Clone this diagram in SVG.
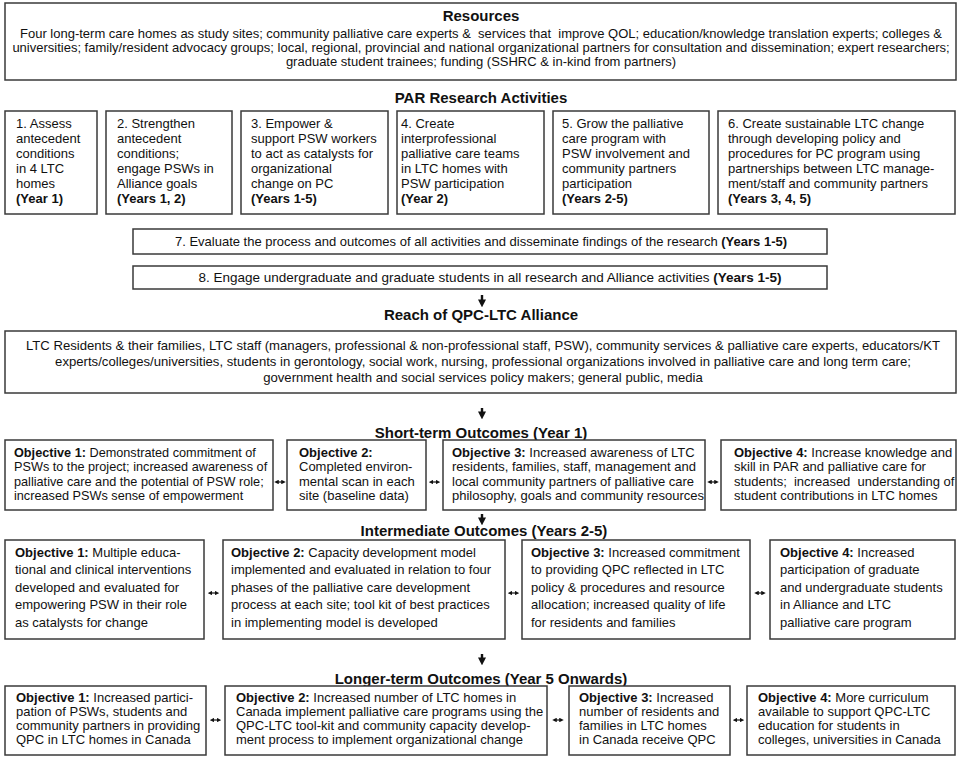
<svg xmlns="http://www.w3.org/2000/svg" width="964" height="764" viewBox="0 0 964 764">
<style>
.box{fill:#fff;stroke:#3a3a3a;stroke-width:1.5}
text{font-family:"Liberation Sans",Arial,sans-serif;font-size:13px;fill:#111;white-space:pre}
.h{font-size:15px;font-weight:bold;text-anchor:middle}
.c{text-anchor:middle}
.b{font-weight:bold}
.sm{font-size:12.7px}
.rc{font-size:13.15px}
.conn{stroke:#111;fill:none}
.down{stroke-width:2.4}
.dbl{stroke-width:1.2}
</style>
<defs>
<marker id="dh" viewBox="0 0 10 10" refX="2" refY="5" markerWidth="8" markerHeight="9" markerUnits="userSpaceOnUse" orient="auto"><path d="M0,0 L10,5 L0,10 z" fill="#111"/></marker>
<marker id="sh" viewBox="0 0 6 6" refX="3" refY="3" markerWidth="4.5" markerHeight="4.5" markerUnits="userSpaceOnUse" orient="auto-start-reverse"><path d="M0,0 L6,3 L0,6 z" fill="#111"/></marker>
</defs>
<rect width="964" height="764" fill="#fff"/>

<g id="resources">
<rect class="box" x="5" y="3" width="951" height="77"/>
<text class="h" x="481" y="20.5">Resources</text>
<text class="c" x="481" y="38">Four long-term care homes as study sites; community palliative care experts &amp;  services that  improve QOL; education/knowledge translation experts; colleges &amp;</text>
<text class="c" x="481" y="52">universities; family/resident advocacy groups; local, regional, provincial and national organizational partners for consultation and dissemination; expert researchers;</text>
<text class="c" x="481" y="66">graduate student trainees; funding (SSHRC &amp; in-kind from partners)</text>
</g>

<g id="par-title"><text class="h" x="481" y="103">PAR Research Activities</text></g>

<g id="act1">
<rect class="box" x="5" y="111" width="92" height="103"/>
<text x="16" y="128">1. Assess</text><text x="16" y="143">antecedent</text><text x="16" y="158">conditions</text><text x="16" y="173">in 4 LTC</text><text x="16" y="188">homes</text><text class="b" x="16" y="203">(Year 1)</text>
</g>
<g id="act2">
<rect class="box" x="106" y="111" width="126" height="103"/>
<text x="117" y="128">2. Strengthen</text><text x="117" y="143">antecedent</text><text x="117" y="158">conditions;</text><text x="117" y="173">engage PSWs in</text><text x="117" y="188">Alliance goals</text><text class="b" x="117" y="203">(Years 1, 2)</text>
</g>
<g id="act3">
<rect class="box" x="241" y="111" width="147" height="103"/>
<text x="251" y="128">3. Empower &amp;</text><text x="251" y="143">support PSW workers</text><text x="251" y="158">to act as catalysts for</text><text x="251" y="173">organizational</text><text x="251" y="188">change on PC</text><text class="b" x="251" y="203">(Years 1-5)</text>
</g>
<g id="act4">
<rect class="box" x="397" y="111" width="147" height="103"/>
<text x="401" y="128">4. Create</text><text x="401" y="143">interprofessional</text><text x="401" y="158">palliative care teams</text><text x="401" y="173">in LTC homes with</text><text x="401" y="188">PSW participation</text><text class="b" x="401" y="203">(Year 2)</text>
</g>
<g id="act5">
<rect class="box" x="553" y="111" width="156" height="103"/>
<text x="562" y="128">5. Grow the palliative</text><text x="562" y="143">care program with</text><text x="562" y="158">PSW involvement and</text><text x="562" y="173">community partners</text><text x="562" y="188">participation</text><text class="b" x="562" y="203">(Years 2-5)</text>
</g>
<g id="act6">
<rect class="box" x="718" y="111" width="237" height="103"/>
<text x="728" y="128">6. Create sustainable LTC change</text><text x="728" y="143">through developing policy and</text><text x="728" y="158">procedures for PC program using</text><text x="728" y="173">partnerships between LTC manage-</text><text x="728" y="188">ment/staff and community partners</text><text class="b" x="728" y="203">(Years 3, 4, 5)</text>
</g>
<g id="act7">
<rect class="box" x="133" y="229" width="694" height="25"/>
<text class="c" x="481" y="246">7. Evaluate the process and outcomes of all activities and disseminate findings of the research <tspan class="b">(Years 1-5)</tspan></text>
</g>
<g id="act8">
<rect class="box" x="133" y="266" width="694" height="23"/>
<text class="c" x="490" y="282" style="font-size:13.5px">8. Engage undergraduate and graduate students in all research and Alliance activities <tspan class="b">(Years 1-5)</tspan></text>
</g>

<g id="reach">
<text class="h" x="481" y="319.5">Reach of QPC-LTC Alliance</text>
<rect class="box" x="5" y="331" width="951" height="62"/>
<text class="c rc" x="483" y="349.5">LTC Residents &amp; their families, LTC staff (managers, professional &amp; non-professional staff, PSW), community services &amp; palliative care experts, educators/KT</text>
<text class="c rc" x="483" y="365.5">experts/colleges/universities, students in gerontology, social work, nursing, professional organizations involved in palliative care and long term care;</text>
<text class="c rc" x="483" y="381.5">government health and social services policy makers; general public, media</text>
</g>

<g id="short-title"><text class="h" x="481" y="437.5">Short-term Outcomes (Year 1)</text></g>
<g id="st1">
<rect class="box" x="5" y="440" width="268" height="70"/>
<text class="sm" x="14" y="456.5"><tspan class="b">Objective 1:</tspan> Demonstrated commitment of</text><text class="sm" x="14" y="471">PSWs to the project; increased awareness of</text><text class="sm" x="14" y="485.5">palliative care and the potential of PSW role;</text><text class="sm" x="14" y="500">increased PSWs sense of empowerment</text>
</g>
<g id="st2">
<rect class="box" x="287" y="440" width="139" height="70"/>
<text x="299" y="456.5" class="b">Objective 2:</text><text x="299" y="471">Completed environ-</text><text x="299" y="485.5">mental scan in each</text><text x="299" y="500">site (baseline data)</text>
</g>
<g id="st3">
<rect class="box" x="443" y="440" width="262" height="70"/>
<text x="452" y="456.5"><tspan class="b">Objective 3:</tspan> Increased awareness of LTC</text><text x="452" y="471">residents, families, staff, management and</text><text x="452" y="485.5">local community partners of palliative care</text><text x="452" y="500">philosophy, goals and community resources</text>
</g>
<g id="st4">
<rect class="box" x="721" y="440" width="235" height="70"/>
<text x="734" y="456.5"><tspan class="b">Objective 4:</tspan> Increase knowledge and</text><text x="734" y="471">skill in PAR and palliative care for</text><text x="734" y="485.5">students;  increased  understanding of</text><text x="734" y="500">student contributions in LTC homes</text>
</g>

<g id="int-title"><text class="h" x="484" y="535.5">Intermediate Outcomes (Years 2-5)</text></g>
<g id="im1">
<rect class="box" x="5" y="540" width="199" height="99"/>
<text x="15" y="556.5"><tspan class="b">Objective 1:</tspan> Multiple educa-</text><text x="15" y="574">tional and clinical interventions</text><text x="15" y="591.5">developed and evaluated for</text><text x="15" y="609">empowering PSW in their role</text><text x="15" y="626.5">as catalysts for change</text>
</g>
<g id="im2">
<rect class="box" x="223" y="540" width="282" height="99"/>
<text x="231" y="556.5"><tspan class="b">Objective 2:</tspan> Capacity development model</text><text x="231" y="574">implemented and evaluated in relation to four</text><text x="231" y="591.5">phases of the palliative care development</text><text x="231" y="609">process at each site; tool kit of best practices</text><text x="231" y="626.5">in implementing model is developed</text>
</g>
<g id="im3">
<rect class="box" x="522" y="540" width="228" height="99"/>
<text x="531" y="556.5"><tspan class="b">Objective 3:</tspan> Increased commitment</text><text x="531" y="574">to providing QPC reflected in LTC</text><text x="531" y="591.5">policy &amp; procedures and resource</text><text x="531" y="609">allocation; increased quality of life</text><text x="531" y="626.5">for residents and families</text>
</g>
<g id="im4">
<rect class="box" x="770" y="540" width="185" height="99"/>
<text x="780" y="556.5"><tspan class="b">Objective 4:</tspan> Increased</text><text x="780" y="574">participation of graduate</text><text x="780" y="591.5">and undergraduate students</text><text x="780" y="609">in Alliance and LTC</text><text x="780" y="626.5">palliative care program</text>
</g>

<g id="long-title"><text class="h" x="481" y="683.5">Longer-term Outcomes (Year 5 Onwards)</text></g>
<g id="lt1">
<rect class="box" x="5" y="686" width="201" height="69"/>
<text x="16" y="701.5"><tspan class="b">Objective 1:</tspan> Increased partici-</text><text x="16" y="715.5">pation of PSWs, students and</text><text x="16" y="729.5">community partners in providing</text><text x="16" y="743.5">QPC in LTC homes in Canada</text>
</g>
<g id="lt2">
<rect class="box" x="225" y="686" width="322" height="69"/>
<text x="236" y="701.5"><tspan class="b">Objective 2:</tspan> Increased number of LTC homes in</text><text x="236" y="715.5">Canada implement palliative care programs using the</text><text x="236" y="729.5">QPC-LTC tool-kit and community capacity develop-</text><text x="236" y="743.5">ment process to implement organizational change</text>
</g>
<g id="lt3">
<rect class="box" x="569" y="686" width="161" height="69"/>
<text x="579" y="701.5"><tspan class="b">Objective 3:</tspan> Increased</text><text x="579" y="715.5">number of residents and</text><text x="579" y="729.5">families in LTC homes</text><text x="579" y="743.5">in Canada receive QPC</text>
</g>
<g id="lt4">
<rect class="box" x="747" y="686" width="208" height="69"/>
<text x="758" y="701.5"><tspan class="b">Objective 4:</tspan> More curriculum</text><text x="758" y="715.5">available to support QPC-LTC</text><text x="758" y="729.5">education for students in</text><text x="758" y="743.5">colleges, universities in Canada</text>
</g>

<g id="connectors">
<path class="conn down" d="M482,295 V301" marker-end="url(#dh)"/>
<path class="conn down" d="M482,408 V413" marker-end="url(#dh)"/>
<path class="conn down" d="M482,514 V519" marker-end="url(#dh)"/>
<path class="conn down" d="M482,654 V659" marker-end="url(#dh)"/>
<path class="conn dbl" d="M276.5,482 H283.5" marker-start="url(#sh)" marker-end="url(#sh)"/>
<path class="conn dbl" d="M431,482 H438" marker-start="url(#sh)" marker-end="url(#sh)"/>
<path class="conn dbl" d="M709.5,482 H716.5" marker-start="url(#sh)" marker-end="url(#sh)"/>
<path class="conn dbl" d="M210,593 H217" marker-start="url(#sh)" marker-end="url(#sh)"/>
<path class="conn dbl" d="M510,593 H517" marker-start="url(#sh)" marker-end="url(#sh)"/>
<path class="conn dbl" d="M756.5,593 H763.5" marker-start="url(#sh)" marker-end="url(#sh)"/>
<path class="conn dbl" d="M212,720 H219" marker-start="url(#sh)" marker-end="url(#sh)"/>
<path class="conn dbl" d="M554.5,720 H561.5" marker-start="url(#sh)" marker-end="url(#sh)"/>
<path class="conn dbl" d="M735,720 H742" marker-start="url(#sh)" marker-end="url(#sh)"/>
</g>
</svg>
